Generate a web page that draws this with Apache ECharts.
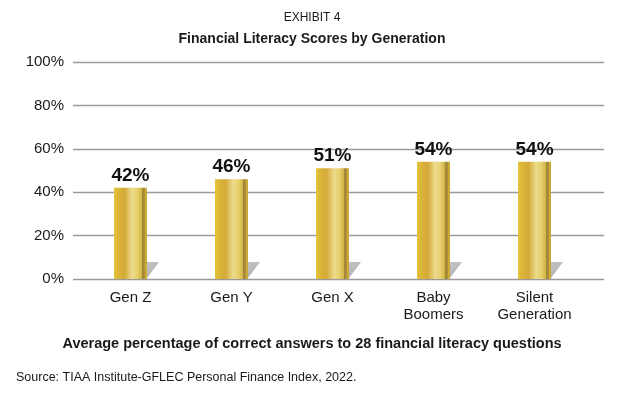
<!DOCTYPE html>
<html><head><meta charset="utf-8">
<script src="https://cdn.jsdelivr.net/npm/echarts@6/dist/echarts.min.js"></script>
<style>html,body{margin:0;padding:0;background:#fff}#c{width:624px;height:394px}</style>
</head><body><div id="c"></div>
<script>
const categories = ['Gen Z', 'Gen Y', 'Gen X', 'Baby\nBoomers', 'Silent\nGeneration'];
const scores = [42, 46, 51, 54, 54];
const yTicks = [0, 20, 40, 60, 80, 100];

const chart = echarts.init(document.getElementById('c'));
const FONT = '"Liberation Sans", Arial, sans-serif';
const barGrad = new echarts.graphic.LinearGradient(0, 0, 1, 0, [
  {offset: 0, color: '#e3c53a'},
  {offset: 0.12, color: '#dcb638'},
  {offset: 0.32, color: '#d4a937'},
  {offset: 0.55, color: '#ecdb8c'},
  {offset: 0.72, color: '#e6cf6a'},
  {offset: 0.84, color: '#d2b448'},
  {offset: 0.86, color: '#a58838'},
  {offset: 0.92, color: '#a58838'},
  {offset: 0.94, color: '#cfae3a'},
  {offset: 1, color: '#c9a530'}
]);
const BARW = 33;
chart.setOption({
  animation: false,
  title: [
    {text: 'EXHIBIT 4', left: 'center', top: 7, textStyle: {fontFamily: FONT, fontSize: 12, fontWeight: 'normal', color: '#1a1a1a'}},
    {text: 'Financial Literacy Scores by Generation', left: 'center', top: 27, textStyle: {fontFamily: FONT, fontSize: 14, fontWeight: 'bold', color: '#1a1a1a'}},
    {text: 'Average percentage of correct answers to 28 financial literacy questions', left: 'center', top: 331, textStyle: {fontFamily: FONT, fontSize: 14.5, fontWeight: 'bold', color: '#1a1a1a'}},
    {text: 'Source: TIAA Institute-GFLEC Personal Finance Index, 2022.', left: 11, top: 366, textStyle: {fontFamily: FONT, fontSize: 12.5, fontWeight: 'normal', color: '#1a1a1a'}}
  ],
  grid: {left: 73, right: 20, top: 62, bottom: 115},
  xAxis: {
    type: 'value', min: -0.569, max: 4.688,
    axisLine: {show: false}, axisTick: {show: false}, splitLine: {show: false},
    axisLabel: {
      customValues: [0, 1, 2, 3, 4],
      formatter: v => categories[Math.round(v)],
      fontFamily: FONT, fontSize: 15, color: '#1a1a1a', lineHeight: 17, margin: 10
    }
  },
  yAxis: {
    type: 'value', min: 0, max: 100, interval: 20,
    axisLine: {show: false}, axisTick: {show: false},
    splitLine: {lineStyle: {color: '#9a9a9a', width: 1.3}},
    axisLabel: {formatter: v => yTicks.includes(v) ? v + '%' : '', fontFamily: FONT, fontSize: 15, color: '#1a1a1a', margin: 9}
  },
  series: [
    {
      type: 'custom', silent: true, z: 1,
      data: scores.map((v, i) => [i, v]),
      renderItem: (params, api) => {
        const p = api.coord([api.value(0), 0]);
        const x = p[0] + BARW / 2;
        return {type: 'polygon', shape: {points: [[x, p[1] - 17], [x + 12, p[1] - 17], [x, p[1] - 1]]},
          style: {fill: new echarts.graphic.LinearGradient(0, 0, 1, 1, [{offset: 0, color: '#c4c4c4'}, {offset: 1, color: '#adadad'}])}};
      }
    },
    {
      type: 'bar', z: 2, barWidth: BARW,
      data: scores.map((v, i) => [i, v]),
      itemStyle: {color: barGrad},
      label: {show: true, position: 'top', distance: 3, formatter: p => p.value[1] + '%',
        fontFamily: FONT, fontSize: 19, fontWeight: 'bold', color: '#111'}
    }
  ]
});
</script></body></html>
